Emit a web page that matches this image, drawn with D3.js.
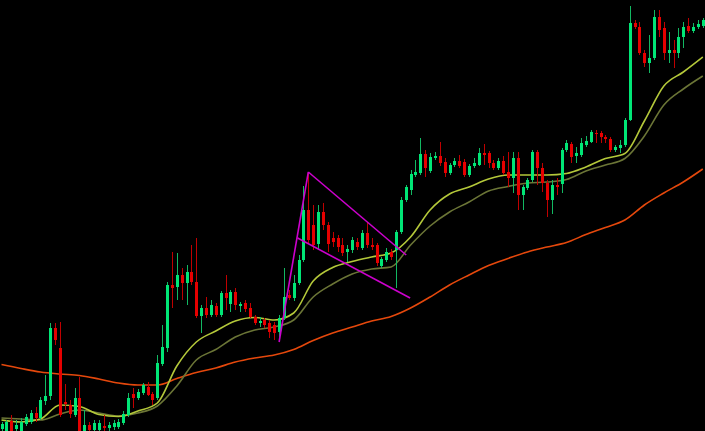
<!DOCTYPE html>
<html>
<head>
<meta charset="utf-8">
<script src="https://cdn.jsdelivr.net/npm/d3@7"></script>
<style>
  html, body { margin: 0; padding: 0; background: #000; overflow: hidden; }
  svg { display: block; }
</style>
</head>
<body>
<svg id="chart"></svg>
<script>
// OHLC, one entry per bar
const opens = [2, 0, 10, 2, 0, 7, 9, 18, 13, 30,
  35, 103, 83, 29, 26, 16, 33, 0, 6, 1,
  1, 5, 3, 4, 4, 8, 16, 37, 33, 38,
  44, 37, 33, 67, 83, 146, 144, 156, 148, 159,
  149, 115, 123, 116, 125, 116, 138, 127, 139, 125,
  128, 123, 114, 108, 111, 108, 106, 99, 113, 136,
  133, 148, 171, 221, 206, 187, 219, 206, 193, 193,
  186, 179, 181, 189, 183, 198, 186, 186, 165, 171,
  179, 181, 199, 231, 241, 256, 258, 277, 260, 273,
  275, 269, 258, 266, 270, 269, 256, 265, 266, 278,
  278, 268, 263, 270, 259, 253, 273, 236, 243, 251,
  279, 263, 248, 231, 246, 247, 281, 287, 275, 276,
  286, 289, 298, 298, 294, 292, 281, 283, 286, 311,
  408, 404, 378, 368, 373, 414, 403, 378, 381, 378,
  394, 405, 400, 404, 405]
const highs = [9, 11, 16, 11, 13, 17, 21, 24, 34, 56,
  108, 108, 109, 47, 31, 43, 54, 21, 9, 11,
  11, 16, 9, 11, 12, 20, 38, 43, 42, 48,
  49, 39, 76, 106, 149, 179, 178, 163, 166, 186,
  193, 126, 134, 131, 128, 140, 156, 141, 143, 129,
  131, 128, 116, 114, 113, 111, 109, 116, 163, 141,
  156, 176, 245, 259, 226, 226, 228, 209, 199, 196,
  193, 186, 194, 193, 201, 209, 193, 188, 174, 183,
  182, 201, 234, 246, 261, 271, 293, 281, 278, 279,
  289, 273, 268, 273, 276, 272, 267, 273, 283, 287,
  280, 271, 273, 275, 279, 279, 279, 246, 253, 281,
  281, 268, 251, 251, 253, 283, 291, 289, 284, 293,
  295, 301, 301, 300, 296, 294, 286, 291, 313, 425,
  411, 409, 381, 396, 421, 421, 409, 399, 391, 403,
  409, 413, 408, 411, 413]
const lows = [0, -3, -3, -1, -2, 5, 7, 9, 11, 26,
  31, 86, 14, 21, 13, 14, -3, -2, -2, -2,
  -2, 0, 0, 1, 2, 6, 14, 23, 31, 36,
  35, 26, 31, 65, 79, 123, 131, 131, 126, 146,
  113, 98, 113, 114, 114, 114, 121, 119, 121, 119,
  119, 113, 106, 104, 103, 93, 91, 89, 111, 131,
  130, 146, 169, 188, 181, 181, 201, 179, 184, 179,
  175, 169, 178, 181, 181, 183, 181, 165, 163, 169,
  171, 143, 197, 229, 236, 254, 256, 254, 258, 271,
  265, 254, 256, 264, 263, 254, 254, 263, 265, 266,
  263, 261, 261, 256, 244, 238, 221, 221, 241, 249,
  246, 239, 214, 217, 236, 238, 279, 268, 268, 274,
  284, 288, 288, 288, 288, 279, 279, 278, 284, 310,
  402, 376, 364, 358, 371, 394, 371, 368, 363, 373,
  383, 398, 398, 402, 403]
const closes = [7, 9, 0, 6, 9, 14, 18, 13, 31, 35,
  103, 91, 16, 27, 17, 33, 0, 6, 1, 8,
  8, 3, 6, 8, 9, 17, 33, 33, 39, 46,
  36, 31, 68, 84, 146, 143, 156, 148, 159, 149,
  115, 123, 116, 126, 116, 138, 133, 139, 126, 127,
  122, 114, 108, 110, 106, 99, 98, 113, 134, 133,
  148, 171, 221, 191, 186, 219, 206, 187, 189, 184,
  178, 182, 191, 184, 198, 186, 184, 168, 172, 179,
  174, 199, 231, 244, 257, 259, 277, 263, 274, 275,
  268, 258, 266, 270, 265, 256, 265, 268, 278, 276,
  268, 263, 270, 258, 253, 273, 236, 244, 251, 279,
  263, 248, 231, 246, 244, 281, 288, 274, 278, 288,
  290, 299, 297, 294, 292, 281, 284, 286, 311, 408,
  404, 378, 368, 373, 414, 401, 378, 381, 378, 394,
  404, 400, 404, 407, 411]

// moving averages, read every 4 bars
const maStep = 4
const maFast = [11, 9, 12, 26, 24.5, 16.5, 14.5, 20, 28, 65,
  89, 100, 110, 113.5, 111, 118, 150, 163.5, 169.5, 174,
  178, 194, 221, 237, 244, 252, 256, 256, 256, 257.5,
  264, 272.5, 277.5, 310, 345, 359, 374]
const maMid = [13, 12, 11, 17, 21, 18, 15, 18, 25, 45,
  71, 81.5, 94, 101, 104, 111, 134, 147, 157, 162,
  164, 186, 205, 219, 229, 240, 244.5, 248, 249, 251.5,
  260, 266, 272.5, 295, 326, 342, 355]
const maSlow = [66.5, 62.5, 59, 57, 55.5, 52, 48, 46, 46, 52.5,
  58.5, 63, 69, 73, 76, 81.5, 90.5, 98, 104, 110,
  114.5, 123, 134, 146, 156, 165.5, 172.5, 179, 184, 188.5,
  196.5, 203.5, 211, 226, 238, 249, 262]

// flag pattern drawn by hand: [bar, price] end points
const flagLines = [
  [[57.0, 89], [63.0, 259]],
  [[63.0, 259], [83.1, 176]],
  [[60.8, 193], [83.9, 133]]
]

const width = 705, height = 431
const colors = {
  up: '#00e676', down: '#e60000',
  upWick: '#12b862', downWick: '#c00000',
  fast: '#b4c83a', mid: '#6b7536', slow: '#e5480c',
  flag: '#cc00cc'
}

const bars = opens.map((o, i) => ({ i, o, h: highs[i], l: lows[i], c: closes[i] }))

const x = d3.scaleLinear().domain([0, bars.length - 1]).range([1.5, 702.8])
const y = d3.scaleLinear().domain([0, 431]).range([height, 0])

const svg = d3.select('#chart')
  .attr('width', width)
  .attr('height', height)
  .style('background', '#000')

// moving averages
function drawMa (values, color, w) {
  const line = d3.line()
    .x((v, k) => x(k * maStep))
    .y(v => y(v))
    .curve(d3.curveMonotoneX)
  svg.append('path')
    .datum(values)
    .attr('d', line)
    .attr('fill', 'none')
    .attr('stroke', color)
    .attr('stroke-width', w)
}
drawMa(maSlow, colors.slow, 1.6)
drawMa(maMid, colors.mid, 1.6)
drawMa(maFast, colors.fast, 1.6)

// candles
const g = svg.append('g').attr('shape-rendering', 'crispEdges')
const candle = g.selectAll('g.bar')
  .data(bars)
  .enter()
  .append('g')
  .attr('class', 'bar')

candle.append('rect')
  .attr('x', d => Math.round(x(d.i)))
  .attr('y', d => y(d.h))
  .attr('width', 1)
  .attr('height', d => Math.max(1, y(d.l) - y(d.h)))
  .attr('fill', d => d.c >= d.o ? colors.upWick : colors.downWick)

candle.append('rect')
  .attr('x', d => Math.round(x(d.i)) - 1)
  .attr('y', d => y(Math.max(d.o, d.c)))
  .attr('width', 3)
  .attr('height', d => Math.max(1, Math.abs(y(d.o) - y(d.c))))
  .attr('fill', d => d.c >= d.o ? colors.up : colors.down)

// flag lines
svg.selectAll('line.flag')
  .data(flagLines)
  .enter()
  .append('line')
  .attr('class', 'flag')
  .attr('x1', d => x(d[0][0]))
  .attr('y1', d => y(d[0][1]))
  .attr('x2', d => x(d[1][0]))
  .attr('y2', d => y(d[1][1]))
  .attr('stroke', colors.flag)
  .attr('stroke-width', 1.6)
</script>
</body>
</html>
